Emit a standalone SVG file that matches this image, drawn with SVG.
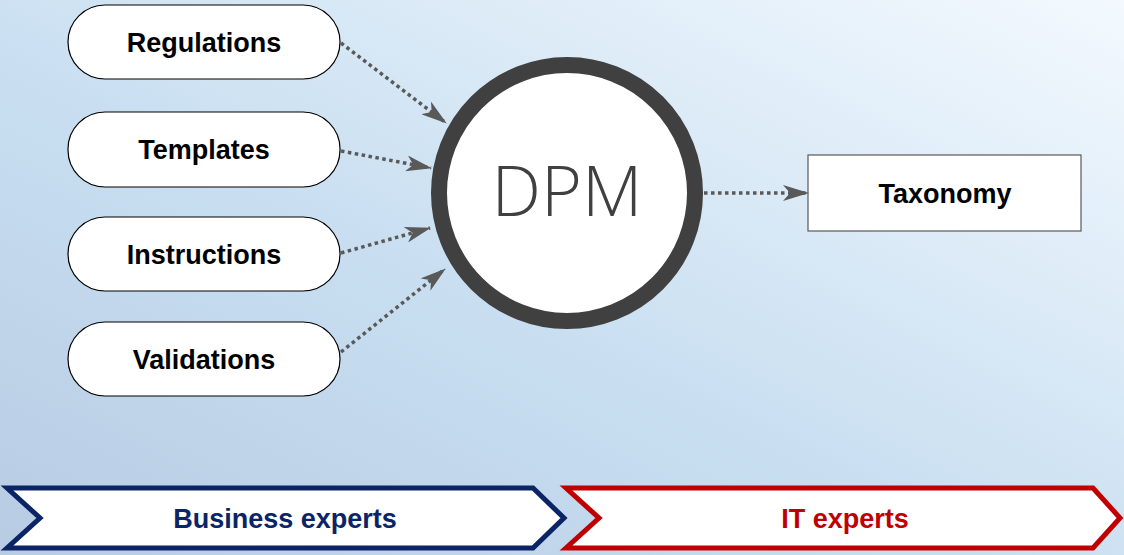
<svg xmlns="http://www.w3.org/2000/svg" width="1124" height="555" viewBox="0 0 1124 555">
<defs>
<linearGradient id="bg" x1="0" y1="1" x2="1" y2="0">
<stop offset="0" stop-color="#b7cbe3"/>
<stop offset="0.45" stop-color="#c9dff1"/>
<stop offset="1" stop-color="#f3f9fe"/>
</linearGradient>
<marker id="ah" markerUnits="userSpaceOnUse" markerWidth="26" markerHeight="16" viewBox="0 0 26 16" refX="25" refY="8" orient="auto">
<path d="M0,0 L26,8 L0,16 L7,8 Z" fill="#595959"/>
</marker>
<style>
.pill{fill:#fff;stroke:#000;stroke-width:1.2}
.lbl{font-family:"Liberation Sans",Arial,sans-serif;font-weight:bold;font-size:27px;fill:#000;text-anchor:middle}
.con{fill:none;stroke:#595959;stroke-width:3.5;stroke-dasharray:3.5 3.5;marker-end:url(#ah)}
.ban{font-family:"Liberation Sans",Arial,sans-serif;font-weight:bold;font-size:27px;text-anchor:middle}
</style>
</defs>
<rect width="1124" height="555" fill="url(#bg)"/>
<g id="regulations"><rect class="pill" x="68" y="5" width="272" height="74" rx="37"/><text class="lbl" x="204" y="52">Regulations</text></g>
<g id="templates"><rect class="pill" x="68" y="112" width="272" height="75" rx="37"/><text class="lbl" x="204" y="159">Templates</text></g>
<g id="instructions"><rect class="pill" x="68" y="217" width="272" height="74" rx="37"/><text class="lbl" x="204" y="264">Instructions</text></g>
<g id="validations"><rect class="pill" x="68" y="322" width="272" height="74" rx="37"/><text class="lbl" x="204" y="369">Validations</text></g>
<g id="dpm"><circle cx="567" cy="193" r="128" fill="#fff" stroke="#404040" stroke-width="16"/><text x="567" y="216" font-family="'Open Sans',sans-serif" font-weight="300" font-size="70" fill="#404040" text-anchor="middle">DPM</text></g>
<g id="taxonomy"><rect x="808" y="155" width="273" height="76" fill="#fff" stroke="#595959" stroke-width="1.2"/><text class="lbl" x="945" y="203">Taxonomy</text></g>
<g id="connectors">
<line class="con" x1="341" y1="43" x2="446" y2="123"/>
<line class="con" x1="341" y1="151" x2="431" y2="168"/>
<line class="con" x1="341" y1="253" x2="430" y2="228"/>
<line class="con" x1="341" y1="352" x2="445" y2="269"/>
<line class="con" x1="704" y1="193" x2="808" y2="193"/>
</g>
<g id="business-experts"><path d="M7,488 L533,488 L564,518 L533,548 L7,548 L40,518 Z" fill="#fff" stroke="#0b2466" stroke-width="5"/><text class="ban" x="285" y="528" fill="#0b2466">Business experts</text></g>
<g id="it-experts"><path d="M566,488 L1093,488 L1120,518 L1093,548 L566,548 L599,518 Z" fill="#fff" stroke="#c00000" stroke-width="5"/><text class="ban" x="845" y="528" fill="#c00000">IT experts</text></g>
</svg>
